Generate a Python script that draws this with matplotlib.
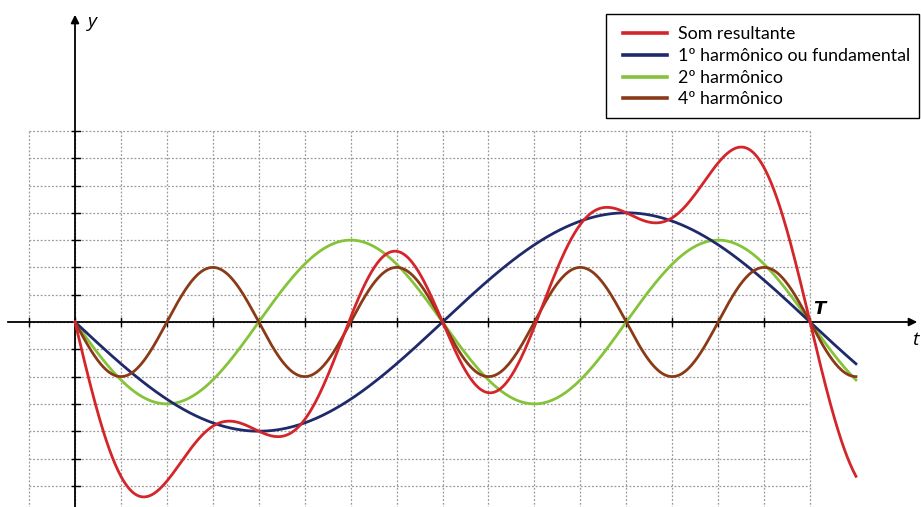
import numpy as np
import matplotlib
matplotlib.use('Agg')
import matplotlib.pyplot as plt
from matplotlib.patches import Rectangle
from matplotlib.lines import Line2D

# harmonic orders and amplitudes (in grid units) of the component waves
labels = ['1º harmônico ou fundamental', '2º harmônico', '4º harmônico']
orders = [1, 2, 4]
amplitudes = [4, 3, 2]
colors = ['#1f2a6b', '#84c33a', '#8a3a16']
sum_label = 'Som resultante'
sum_color = '#d3252a'

period = 16      # T spans 16 grid columns
t_end = 17       # curves run one column past T

# pixel scale of one grid cell and origin position
px_x, px_y = 45.94, 27.3
ox, oy = 75, 322
W, H = 921, 507

fig = plt.figure(figsize=(W / 100, H / 100), dpi=100)
ax = fig.add_axes([0, 0, 1, 1])
ax.set_xlim(-ox / px_x, (W - ox) / px_x)
ax.set_ylim(-(H - oy) / px_y, oy / px_y)
ax.axis('off')

# dotted grid
grid_kw = dict(color='#9a9a9a', lw=0.9, ls=(0, (1.5, 1.5)), zorder=1)
ax.vlines(np.arange(-1, period + 1), -7, 7, **grid_kw)
ax.hlines(np.arange(-7, 8), -1, period, **grid_kw)

# axes with arrows
arrow = dict(arrowstyle='-|>', color='black', lw=1.3, mutation_scale=12)
ax.annotate('', xy=((W - 1 - ox) / px_x, 0), xytext=(-70 / px_x, 0), arrowprops=arrow, zorder=2)
ax.annotate('', xy=(0, (oy - 12) / px_y), xytext=(0, -(H - oy) / px_y - 1), arrowprops=arrow, zorder=2)

# small tick marks on both axes
for k in range(-1, period + 1):
    ax.plot([k, k], [-4 / px_y, 4 / px_y], color='black', lw=1.0, zorder=2)
for k in range(-7, 8):
    if k != 0:
        ax.plot([-3 / px_x, 5 / px_x], [k, k], color='black', lw=1.0, zorder=2)

t = np.linspace(0, t_end, 800)
total = np.zeros_like(t)
curves = []
for n, a, c, lab in zip(orders, amplitudes, colors, labels):
    y = -a * np.sin(2 * np.pi * n * t / period)
    total += y
    curves.append((y, c))

for y, c in [curves[1], curves[0], curves[2]]:
    ax.plot(t, y, color=c, lw=2.0, zorder=3)
ax.plot(t, total, color=sum_color, lw=2.0, zorder=4)

# legend box, drawn in pixel positions
def fx(px):
    return px / W

def fy(py):
    return 1 - py / H

fig.patches.append(Rectangle((fx(606), fy(118)), fx(313), 104 / H, transform=fig.transFigure,
                             facecolor='white', edgecolor='black', lw=1.0, zorder=5))
for i, (lab, c) in enumerate(zip([sum_label] + labels, [sum_color] + colors)):
    row = 33 + 21.8 * i
    fig.lines.append(Line2D([fx(623), fx(667)], [fy(row), fy(row)], transform=fig.transFigure,
                            color=c, lw=2.6, zorder=6))
    fig.text(fx(678), fy(row + 1), lab, family='Lato', fontsize=12.8,
             va='center', ha='left', zorder=6)

ax.text(13 / px_x, (oy - 22) / px_y, 'y', fontsize=14, style='italic',
        family='Open Sans', va='center', ha='left')
ax.text((912 - ox) / px_x, -(340 - oy) / px_y, 't', fontsize=14, style='italic',
        family='Open Sans', va='center', ha='left')
ax.text(period + 3 / px_x, 13 / px_y, 'T', fontsize=13, style='italic', weight='bold',
        family='DejaVu Sans', va='center', ha='left')

fig.savefig('out.png', dpi=100)
